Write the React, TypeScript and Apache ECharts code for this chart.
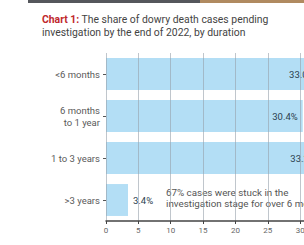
import React, { useEffect, useRef } from "react";
import * as echarts from "echarts";

const categories = ["<6 months", "6 months\nto 1 year", "1 to 3 years", ">3 years"];
const shares = [33.0, 30.4, 33.2, 3.4];
const shareLabels = ["33.0%", "30.4%", "33.2%", "3.4%"];
const titleRed = "Chart 1:";
const titleLine1 = " The share of dowry death cases pending";
const titleLine2 = "investigation by the end of 2022, by duration";
const noteLines = ["67% cases were stuck in the", "investigation stage for over 6 months"];

export default function App() {
  const ref = useRef<HTMLDivElement>(null);
  useEffect(() => {
    document.body.style.margin = "0";
    const chart = echarts.init(ref.current!, null, { renderer: "svg" });
    const font = "Roboto, 'Noto Sans', sans-serif";
    chart.setOption({
      animation: false,
      backgroundColor: "#ffffff",
      grid: { left: 106, top: 53, bottom: 24, right: 4, containLabel: false },
      xAxis: {
        type: "value",
        min: 0,
        max: 35,
        interval: 5,
        z: 5,
        axisLine: { show: true, lineStyle: { color: "#444", width: 1.5 } },
        axisTick: { show: true, length: 3, lineStyle: { color: "#444" } },
        axisLabel: { color: "#666", fontSize: 8, fontFamily: font, margin: 5 },
        splitLine: { show: true, lineStyle: { color: "rgba(150,160,170,0.6)", width: 1 } },
      },
      yAxis: {
        type: "category",
        inverse: true,
        data: categories,
        axisLine: { show: false },
        axisTick: { show: true, length: 3, alignWithLabel: true, lineStyle: { color: "#555" } },
        axisLabel: { color: "#5a5a5a", fontSize: 9.5, fontFamily: font, margin: 6, lineHeight: 12, align: "right" },
      },
      series: [
        {
          type: "bar",
          data: shares.map((v, i) => ({
            value: v,
            label: {
              show: true,
              position: i === 3 ? "right" : "insideRight",
              distance: 5,
              formatter: shareLabels[i],
              color: "#2c3e50",
              fontSize: 9.5,
              fontFamily: font,
            },
          })),
          barCategoryGap: "24%",
          itemStyle: { color: "#b3def5" },
        },
      ],
      graphic: [
        { type: "rect", shape: { x: 28, y: 0, width: 312, height: 3 }, style: { fill: "#55575c" } },
        { type: "rect", shape: { x: 200, y: 0, width: 140, height: 3 }, style: { fill: "#b08a60" } },
        {
          type: "text",
          x: 42,
          y: 14,
          style: {
            text: "{r|" + titleRed + "}" + titleLine1,
            fontSize: 10.4,
            fontFamily: font,
            fill: "#444",
            rich: { r: { fill: "#c0272d", fontWeight: "bold", fontSize: 10.4, fontFamily: font } },
          },
        },
        { type: "text", x: 42, y: 27, style: { text: titleLine2, fontSize: 10.4, fontFamily: font, fill: "#444" } },
        {
          type: "text",
          x: 166,
          y: 187,
          style: { text: noteLines.join("\n"), fontSize: 9.8, lineHeight: 11, fontFamily: font, fill: "#555" },
        },
      ],
    });
    return () => chart.dispose();
  }, []);
  return (
    <div style={{ width: 304, height: 245, position: "absolute", left: 0, top: 0, overflow: "hidden" }}>
      <div ref={ref} style={{ width: 340, height: 245 }} />
    </div>
  );
}
